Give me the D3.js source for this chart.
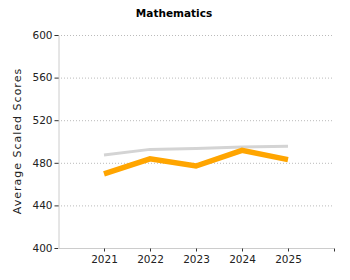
<!DOCTYPE html>
<html><head><meta charset="utf-8">
<script src="https://cdn.jsdelivr.net/npm/d3@7"></script>
<style>body{margin:0;background:#fff}svg{display:block}</style>
</head><body>
<svg id="c" width="350" height="280"></svg>
<script>
const years = [2021, 2022, 2023, 2024, 2025];
const stateScores = [469.5, 483.7, 477, 491.7, 483];
const nationalScores = [487.3, 492.6, 493.5, 494.8, 495.5];
const yTicks = [400, 440, 480, 520, 560, 600];
const title = "Mathematics";
const yLabel = "Average Scaled Scores";

const svg = d3.select("#c");
const x = d3.scaleLinear().domain([2020, 2026]).range([58, 334]);
const y = d3.scaleLinear().domain([400, 600]).range([248, 35]);
const font = "Verdana, 'DejaVu Sans', sans-serif";

// gridlines
svg.append("g").selectAll("line").data(yTicks.filter(d => d > 400)).join("line")
  .attr("x1", 58).attr("x2", 334)
  .attr("y1", d => y(d) + 0.5).attr("y2", d => y(d) + 0.5)
  .attr("stroke", "#bbb").attr("stroke-dasharray", "1,2");

// y axis
const ya = svg.append("g").attr("transform", "translate(58.5,0)")
  .call(d3.axisLeft(y).tickValues(yTicks).tickSize(4).tickPadding(2).tickFormat(d3.format("d")));
ya.select(".domain").attr("stroke", "#ccc");
ya.selectAll(".tick line").attr("stroke", "#333");
ya.selectAll("text").attr("font-family", font).attr("font-size", 10.5).attr("fill", "#222");

// x axis
const xa = svg.append("g").attr("transform", "translate(0,248.5)")
  .call(d3.axisBottom(x).tickValues(years.concat([2026])).tickSize(3).tickPadding(4).tickFormat(d => d === 2026 ? "" : d));
xa.select(".domain").attr("stroke", "#ccc").attr("d", "M58,0H334");
xa.selectAll(".tick line").attr("stroke", "#333");
xa.selectAll("text").attr("font-family", font).attr("font-size", 10.5).attr("fill", "#222");

const line = d3.line().x((d, i) => x(years[i])).y(d => y(d));
svg.append("path").datum(nationalScores).attr("d", line)
  .attr("fill", "none").attr("stroke", "#d4d4d4").attr("stroke-width", 3);
svg.append("path").datum(stateScores).attr("d", line)
  .attr("fill", "none").attr("stroke", "#ffa500").attr("stroke-width", 5.5);

svg.append("text").attr("x", 174).attr("y", 17).attr("text-anchor", "middle")
  .attr("font-family", font).attr("font-size", 10.5).attr("font-weight", "bold").text(title);

svg.append("text").attr("transform", "translate(21,141) rotate(-90)")
  .attr("text-anchor", "middle").attr("font-family", font).attr("font-size", 11)
  .attr("letter-spacing", 1).attr("fill", "#222").text(yLabel);
</script>
</body></html>
